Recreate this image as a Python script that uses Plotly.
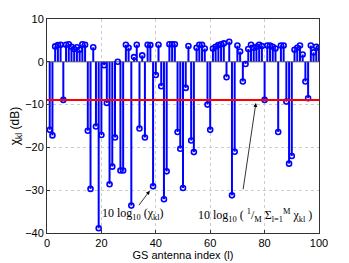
import plotly.graph_objects as go

# GS antenna index l = 1..100
antenna_index = list(range(1, 101))
chi_db = [
    -15.9, -17.2, 3.6, 3.9, 4.0, -8.9, 4.0, 4.1, 3.5, 3.0,
    3.4, 2.8, 4.1, 4.0, -16.1, -29.7, 3.4, -15.1, -38.9, -17.1,
    -0.8, -9.6, -28.6, -24.5, -17.7, 0.0, -25.4, -25.4, 4.0, 3.3,
    -33.6, 1.1, 4.0, -15.6, 1.5, -17.7, 4.0, 3.9, -29.1, -3.1,
    4.0, -5.7, -32.1, -25.6, 4.1, 4.1, 4.1, -16.4, -20.3, -29.5,
    -6.1, 3.7, -18.4, -21.1, 3.3, 4.0, 4.0, 3.1, -10.0, -15.9,
    3.1, 3.5, 3.9, 4.1, 4.3, -3.6, 4.7, -31.2, -21.0, 3.8,
    2.4, -4.6, -0.5, 3.0, 4.0, 3.3, 3.5, 4.0, 3.7, -8.9,
    3.8, 3.8, 3.5, 3.1, -16.4, 3.8, 3.8, -9.3, -23.8, -22.0,
    2.8, 3.3, 3.8, 1.7, -4.6, -8.5, 3.8, 2.2, 3.5, 3.3,
]
mean_db = -8.9
x_range = [0, 100]
y_range = [-40, 10]
x_ticks = [0, 20, 40, 60, 80, 100]
y_ticks = [10, 0, -10, -20, -30, -40]

BLUE = "#0000ff"

# stems
sx, sy = [], []
for l, v in zip(antenna_index, chi_db):
    sx += [l, l, None]
    sy += [0, v, None]

fig = go.Figure()
fig.add_trace(go.Scatter(x=sx, y=sy, mode="lines",
                         line=dict(color=BLUE, width=2), hoverinfo="skip",
                         showlegend=False))
# baseline
fig.add_trace(go.Scatter(x=x_range, y=[0, 0], mode="lines",
                         line=dict(color="#555555", width=1), showlegend=False))
# markers
fig.add_trace(go.Scatter(x=antenna_index, y=chi_db, mode="markers",
                         marker=dict(symbol="circle-open", size=5, color=BLUE,
                                     line=dict(color=BLUE, width=1.6)),
                         showlegend=False))
# mean line
fig.add_trace(go.Scatter(x=x_range, y=[mean_db, mean_db], mode="lines",
                         line=dict(color="#ff0000", width=2), showlegend=False))

serif = "Liberation Serif, Times New Roman, serif"
ann = [
    dict(x=37.8, y=-30.1, ax=-12, ay=16, text="", showarrow=True,
         arrowhead=2, arrowsize=1, arrowwidth=0.8, arrowcolor="black"),
    dict(x=31.6, y=-35.5, text="10 log<sub>10</sub> (χ<sub>kl</sub>)",
         showarrow=False, font=dict(family=serif, size=12, color="black")),
    dict(x=76.8, y=-9.6, ax=-13, ay=88, text="", showarrow=True,
         arrowhead=2, arrowsize=1, arrowwidth=0.8, arrowcolor="black"),
    dict(x=76.5, y=-35.8,
         text="10 log<sub>10</sub> ( <sup>1</sup>/<sub>M</sub> Σ<sub>l=1</sub><sup>M</sup> χ<sub>kl</sub> )",
         showarrow=False, font=dict(family=serif, size=12, color="black")),
]

axis_common = dict(showline=True, linecolor="#333333", linewidth=1, mirror=True,
                   ticks="inside", ticklen=3, tickcolor="#333333",
                   showgrid=True, gridcolor="#cccccc", griddash="dot", gridwidth=1,
                   zeroline=False, automargin=False,
                   tickfont=dict(size=11, color="black"))

# the page body adds an 8px offset; margins compensate so the plot box lands
# at the reference position
fig.update_layout(
    width=349, height=263,
    margin=dict(l=39, r=38, t=11, b=38),
    paper_bgcolor="white", plot_bgcolor="white",
    font=dict(family="Liberation Sans, Arial, sans-serif", size=11, color="black"),
    annotations=ann,
    xaxis=dict(range=x_range, tickvals=x_ticks, title=dict(text="GS antenna index (l)", standoff=2,
               font=dict(size=11)), **axis_common),
    yaxis=dict(range=y_range, tickvals=y_ticks, title=dict(text="χ<sub>kl</sub> (dB)", standoff=4,
               font=dict(size=12)), **axis_common),
)

fig.write_html("out.html")
